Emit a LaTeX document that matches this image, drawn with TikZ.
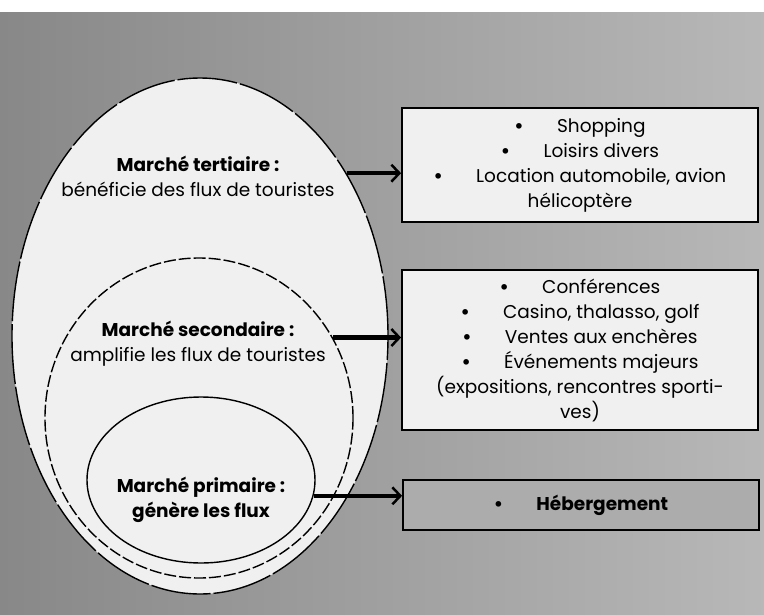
\documentclass[tikz,border=0pt]{standalone}
\usepackage{fontspec}
\setmainfont{Poppins}
\usetikzlibrary{shapes.geometric,arrows.meta}

\definecolor{scan}{RGB}{160,160,160}
\definecolor{paper}{RGB}{240,240,240}
\definecolor{boxgray}{RGB}{172,172,172}
\newcommand{\dotitem}{{\bfseries\textbullet}\hspace{1.8em}}

\begin{document}
\begin{tikzpicture}[x=1pt, y=-1pt]
		\tikzstyle{every node}=[inner sep=0pt, align=center, font=\fontsize{18.5}{25}\selectfont]
		\tikzstyle{market}=[ellipse, draw, line width=1.4pt]
		\tikzstyle{listbox}=[draw, line width=1.8pt, fill=paper, minimum width=356pt]
		\tikzstyle{flow}=[line width=4.5pt, -{Straight Barb[length=8pt, width=17pt, line width=2.5pt]}]

		\useasboundingbox (0,0) rectangle (764,614);
		\shade[left color=scan!85!black, right color=scan!75!white] (0,12) rectangle (764,614);

		% the three markets, one inside the other
		\node[market, dash pattern=on 60pt off 3pt, fill=paper, minimum width=376pt, minimum height=516pt] (tert) at (200,336) {};
		\node[market, dash pattern=on 12pt off 3pt, minimum width=308pt, minimum height=320pt] (sec) at (199,418) {};
		\node[market, minimum width=228pt, minimum height=166pt] (prim) at (201,480) {};

		\node (tertlab) at (198,176) {\textbf{Marché tertiaire :}\\bénéficie des flux de touristes};
		\node (seclab) at (198,344) {\textbf{Marché secondaire :}\\amplifie les flux de touristes};
		\node (primlab) at (201,500) {\textbf{Marché primaire :}\\\textbf{génère les flux}};

		% what each market brings
		\node[listbox, minimum height=114pt] (tertbox) at (580,165) {\dotitem Shopping\\\dotitem Loisirs divers\\\dotitem Location automobile, avion\\hélicoptère};
		\node[listbox, minimum height=160pt] (secbox) at (580,350) {\dotitem Conférences\\\dotitem Casino, thalasso, golf\\\dotitem Ventes aux enchères\\\dotitem Événements majeurs\\(expositions, rencontres sporti-\\ves)};
		\node[listbox, fill=boxgray, minimum height=50pt] (primbox) at (581,505) {\textbf{\dotitem Hébergement}};

		\draw[flow] (tert.48) -- (tert.48 -| tertbox.west);
		\draw[flow] (sec.31.3) -- (sec.31.3 -| secbox.west);
		\draw[flow] (prim.-8.7) -- (prim.-8.7 -| primbox.west);
\end{tikzpicture}
\end{document}
